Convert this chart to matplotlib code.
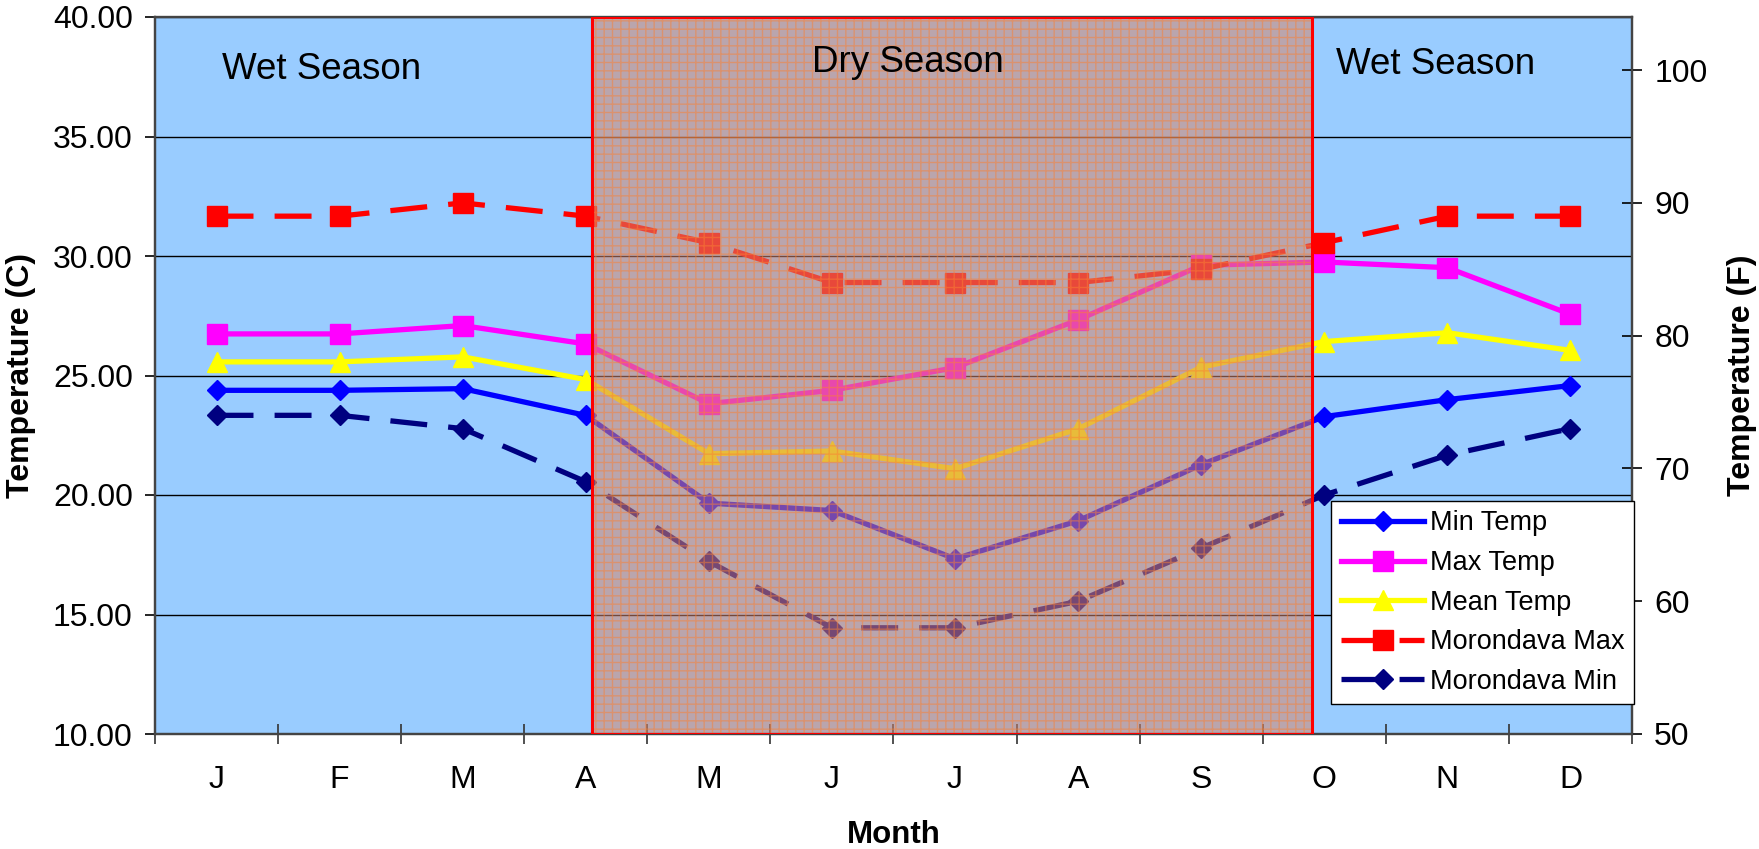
import matplotlib
matplotlib.use("Agg")
import matplotlib.pyplot as plt
from matplotlib.ticker import FixedLocator, FormatStrFormatter, NullFormatter

plt.rcParams["font.family"] = ["Liberation Sans", "DejaVu Sans"]
plt.rcParams["hatch.linewidth"] = 1.0

# ── Données ───────────────────────────────────────────────────────────────────
months    = ["J", "F", "M", "A", "M", "J", "J", "A", "S", "O", "N", "D"]
min_temp  = [24.38, 24.38, 24.45, 23.33, 19.66, 19.35, 17.33, 18.92, 21.27, 23.28, 23.99, 24.58]
max_temp  = [26.74, 26.74, 27.09, 26.32, 23.82, 24.38, 25.33, 27.33, 29.61, 29.75, 29.51, 27.56]
mean_temp = [25.57, 25.57, 25.78, 24.83, 21.73, 21.84, 21.10, 22.77, 25.35, 26.42, 26.79, 26.05]
morondava_max_f = [89, 89, 90, 89, 87, 84, 84, 84, 85, 87, 89, 89]
morondava_min_f = [74, 74, 73, 69, 63, 58, 58, 60, 64, 68, 71, 73]

DRY_START, DRY_END = 3.05, 8.9
x = list(range(len(months)))

fig = plt.figure(figsize=(17.59, 8.49), dpi=100)
ax = fig.add_axes([155 / 1759, 1 - 734 / 849, 1477 / 1759, 717 / 849])
ax.set_facecolor("#99CCFF")
ax2 = ax.twinx()
ax2.patch.set_visible(False)

lw = 3.8
ax.plot(x, min_temp, color="#0000FF", lw=lw, marker="D", ms=10.5, zorder=3, label="Min Temp")
ax.plot(x, max_temp, color="#FF00FF", lw=lw, marker="s", ms=15, zorder=3, label="Max Temp")
ax.plot(x, mean_temp, color="#FFFF00", lw=lw, marker="^", ms=15, zorder=3, label="Mean Temp")
ax2.plot(x, morondava_max_f, color="#FF0000", lw=lw, marker="s", ms=15, dashes=(7, 4), zorder=1,
         label="Morondava Max")
ax2.plot(x, morondava_min_f, color="#000080", lw=lw, marker="D", ms=10.5, dashes=(7, 4), zorder=1,
         label="Morondava Min")

# saison sèche : zone hachurée semi-transparente par-dessus les courbes
ax2.axvspan(DRY_START, DRY_END, facecolor=(0.84, 0.52, 0.42, 0.55), lw=0, zorder=4)
ax2.axvspan(DRY_START, DRY_END, facecolor="none", edgecolor=(0.98, 0.5, 0.2, 0.5), hatch="++",
            lw=0, zorder=5)
ax2.axvspan(DRY_START, DRY_END, facecolor="none", edgecolor="#FF0000", lw=2.2, zorder=6)

ax2.text(0.85, 100.05, "Wet Season", fontsize=26.5, ha="center", va="center", zorder=7)
ax2.text(5.62, 100.6, "Dry Season", fontsize=26.5, ha="center", va="center", zorder=7)
ax2.text(9.9, 100.4, "Wet Season", fontsize=26.5, ha="center", va="center", zorder=7)

# axes
ax.set_xlim(-0.5, 11.5)
ax.set_ylim(10, 40)
ax2.set_ylim(50, 104)
ax.set_yticks([10, 15, 20, 25, 30, 35, 40])
ax.yaxis.set_major_formatter(FormatStrFormatter("%.2f"))
ax2.set_yticks([50, 60, 70, 80, 90, 100])
ax.grid(axis="y", color="black", lw=1.0, zorder=1)
ax.set_axisbelow(True)

ax.xaxis.set_major_locator(FixedLocator([i - 0.5 for i in range(13)]))
ax.xaxis.set_major_formatter(NullFormatter())
ax.xaxis.set_minor_locator(FixedLocator(x))
ax.set_xticklabels(months, minor=True)
ax.tick_params(axis="x", which="major", direction="inout", length=14, width=1.2, color="#333333")
ax.tick_params(axis="x", which="minor", length=0, pad=22, labelsize=23)
ax.tick_params(axis="y", direction="out", length=7, width=1.2, pad=9, labelsize=23)
ax2.tick_params(axis="y", direction="inout", length=14, width=1.2, pad=9, labelsize=23)

for a in (ax, ax2):
    for s in a.spines.values():
        s.set_color("#444444")
        s.set_linewidth(1.6)
ax.spines["top"].set_color("#888888")

ax.set_xlabel("Month", fontsize=22.5, fontweight="bold", labelpad=18)
ax.set_ylabel("Temperature (C)", fontsize=23, fontweight="bold", labelpad=12)
ax2.set_ylabel("Temperature (F)", fontsize=23, fontweight="bold", labelpad=14)

h1, l1 = ax.get_legend_handles_labels()
h2, l2 = ax2.get_legend_handles_labels()
leg = ax2.legend(h1 + h2, l1 + l2, loc="upper right", bbox_to_anchor=(1634 / 1759, 1 - 501 / 849),
                 bbox_transform=fig.transFigure, borderaxespad=0, fontsize=19.5, handlelength=3.1,
                 labelspacing=0.5, handletextpad=0.2, borderpad=0.35, fancybox=False,
                 edgecolor="black", framealpha=1)
leg.set_zorder(10)
leg.get_frame().set_linewidth(1.0)

fig.savefig("out.png", dpi=100)
